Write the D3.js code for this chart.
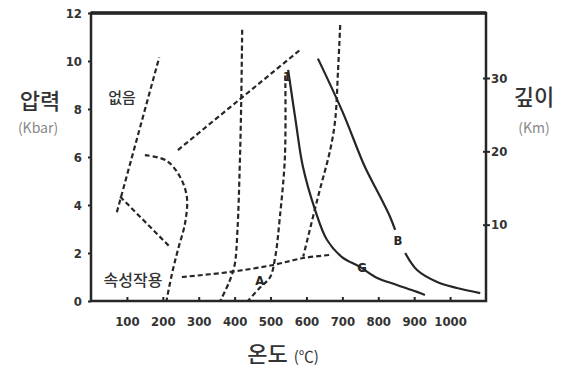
<!DOCTYPE html>
<html>
<head>
<meta charset="utf-8">
<script src="https://cdn.jsdelivr.net/npm/d3@7"></script>
<style>
  body { margin: 0; background: #fff; }
  .tick text { font-family: "DejaVu Sans Condensed", "DejaVu Sans", sans-serif; font-weight: bold; font-size: 13px; fill: #333; }
  .kr { font-family: "Noto Sans CJK KR", sans-serif; }
</style>
</head>
<body>
<div id="chart"></div>
<script>
// ***************数据*******************
const xTicks = [100, 200, 300, 400, 500, 600, 700, 800, 900, 1000];
const yTicks = [0, 2, 4, 6, 8, 10, 12];
const depthTicks = [10, 20, 30];

// [온도 ℃, 압력 kbar]
const lineSteep = [[72, 3.7], [190, 10.15]];
const lineLower = [[81, 4.35], [220, 2.25]];
const loopCurve = [[150, 6.08], [210, 5.85], [248, 5.17], [267, 4.33], [262, 3.25], [242, 2.13], [226, 1.17], [210, 0]];
const lineUpper = [[242, 6.29], [582, 10.46]];
const line420 = [[421, 11.3], [418, 8], [414, 5.5], [408, 3], [400, 1.5], [385, 0.8], [360, 0]];
const line540 = [[541, 9.4], [540, 6.0], [526, 3.5], [513, 1.83], [499, 1.0], [470, 0.55], [437, 0]];
const line690 = [[694, 11.5], [688, 9.63], [680, 7.54], [666, 6.29], [632, 4.33], [591, 1.85]];
const lineLow = [[253, 1.0], [387, 1.21], [507, 1.5], [591, 1.79], [666, 1.92]];
const curveG = [[549, 9.63], [570, 7.5], [590, 5.6], [624, 3.8], [657, 2.55], [699, 1.83], [749, 1.42], [797, 0.96], [852, 0.67], [908, 0.38], [930, 0.25]];
const curveBTop = [[632, 10.1], [700, 7.9], [763, 5.58], [800, 4.5], [833, 3.5], [847, 2.96]];
const curveBLow = [[875, 2.0], [908, 1.29], [964, 0.79], [1019, 0.54], [1084, 0.33]];

const labels = [
    { text: 'A', t: 470, p: 0.8 },
    { text: 'B', t: 855, p: 2.5 },
    { text: 'G', t: 755, p: 1.35 },
    { text: '1', t: 546, p: 9.3 }
];

const width = 563;
const height = 369;
const paddingLeft = 91;
const paddingRight = 486;
const paddingTop = 13;
const paddingBottom = 301;
const ink = '#262626';

/****************************** 比例尺 ***************************************/
const xScale = d3.scaleLinear().domain([0, 1100]).range([paddingLeft, paddingRight]);
const yScale = d3.scaleLinear().domain([0, 12]).range([paddingBottom, paddingTop]);
const depthScale = d3.scaleLinear().domain([0, 30]).range([298, 78]);

const svg = d3.select('#chart').append('svg')
    .attr('width', width)
    .attr('height', height);

// ***************坐标轴***************
const xAxis = d3.axisBottom(xScale).tickValues(xTicks).tickSize(-4).tickPadding(16).tickFormat(d3.format('d'));
const yAxis = d3.axisLeft(yScale).tickValues(yTicks).tickSize(3).tickPadding(6);
const rAxis = d3.axisRight(depthScale).tickValues(depthTicks).tickSize(4).tickPadding(1);

const gx = svg.append('g').attr('transform', `translate(0,${paddingBottom})`).call(xAxis);
const gy = svg.append('g').attr('transform', `translate(${paddingLeft},0)`).call(yAxis);
const gr = svg.append('g').attr('transform', `translate(${paddingRight},0)`).call(rAxis);
[gx, gy, gr].forEach((g) => {
    g.select('.domain').remove();
    g.selectAll('.tick line').attr('stroke', ink).attr('stroke-width', 2);
});
gr.selectAll('.tick line').attr('x1', -3);

// 边框
svg.append('path')
    .attr('d', `M${paddingLeft},${paddingTop}H${paddingRight}V${paddingBottom}H${paddingLeft}Z`)
    .attr('fill', 'none')
    .attr('stroke', ink)
    .attr('stroke-width', 2.5);
svg.append('line')
    .attr('x1', paddingLeft).attr('x2', paddingRight)
    .attr('y1', paddingTop).attr('y2', paddingTop)
    .attr('stroke', ink).attr('stroke-width', 3.5);

// ***************曲线******************
const line = d3.line().x((d) => xScale(d[0])).y((d) => yScale(d[1]));
const smooth = d3.line().x((d) => xScale(d[0])).y((d) => yScale(d[1])).curve(d3.curveCatmullRom);

const dashed = [
    [lineSteep, line], [lineLower, line], [loopCurve, smooth], [lineUpper, line],
    [line420, smooth], [line540, smooth], [line690, smooth], [lineLow, smooth]
];
dashed.forEach(([data, gen]) => {
    svg.append('path')
        .attr('d', gen(data))
        .attr('fill', 'none')
        .attr('stroke', ink)
        .attr('stroke-width', 2.2)
        .attr('stroke-dasharray', '5,3');
});

[curveG, curveBTop, curveBLow].forEach((data) => {
    svg.append('path')
        .attr('d', smooth(data))
        .attr('fill', 'none')
        .attr('stroke', ink)
        .attr('stroke-width', 2.2);
});

svg.selectAll('.curveLabel')
    .data(labels)
    .enter()
    .append('text')
    .attr('class', 'curveLabel')
    .attr('x', (d) => xScale(d.t))
    .attr('y', (d) => yScale(d.p))
    .attr('text-anchor', 'middle')
    .attr('dominant-baseline', 'middle')
    .attr('font-family', '"DejaVu Sans Condensed", "DejaVu Sans", sans-serif')
    .attr('font-weight', 'bold')
    .attr('font-size', 13)
    .attr('fill', ink)
    .text((d) => d.text);

// 区域文字
svg.append('text').attr('class', 'kr')
    .attr('x', 122).attr('y', 103)
    .attr('text-anchor', 'middle')
    .attr('font-size', 15).attr('font-weight', 500).attr('fill', '#333')
    .text('없음');
svg.append('text').attr('class', 'kr')
    .attr('x', 133).attr('y', 286)
    .attr('text-anchor', 'middle')
    .attr('font-size', 16).attr('font-weight', 500).attr('fill', '#333')
    .text('속성작용');

// 轴标题
svg.append('text').attr('class', 'kr')
    .attr('x', 40).attr('y', 109)
    .attr('text-anchor', 'middle')
    .attr('font-size', 22).attr('font-weight', 500).attr('fill', '#333')
    .text('압력');
svg.append('text').attr('class', 'kr')
    .attr('x', 38).attr('y', 133)
    .attr('text-anchor', 'middle')
    .attr('font-size', 14).attr('fill', '#888')
    .text('(Kbar)');
svg.append('text').attr('class', 'kr')
    .attr('x', 534).attr('y', 105)
    .attr('text-anchor', 'middle')
    .attr('font-size', 22).attr('font-weight', 500).attr('fill', '#333')
    .text('깊이');
svg.append('text').attr('class', 'kr')
    .attr('x', 534).attr('y', 133)
    .attr('text-anchor', 'middle')
    .attr('font-size', 14).attr('fill', '#888')
    .text('(Km)');
svg.append('text').attr('class', 'kr')
    .attr('x', 283).attr('y', 362)
    .attr('text-anchor', 'middle')
    .attr('fill', '#333')
    .html('<tspan font-size="22" font-weight="500">온도</tspan><tspan font-size="15" dx="6">(℃)</tspan>');
</script>
</body>
</html>
